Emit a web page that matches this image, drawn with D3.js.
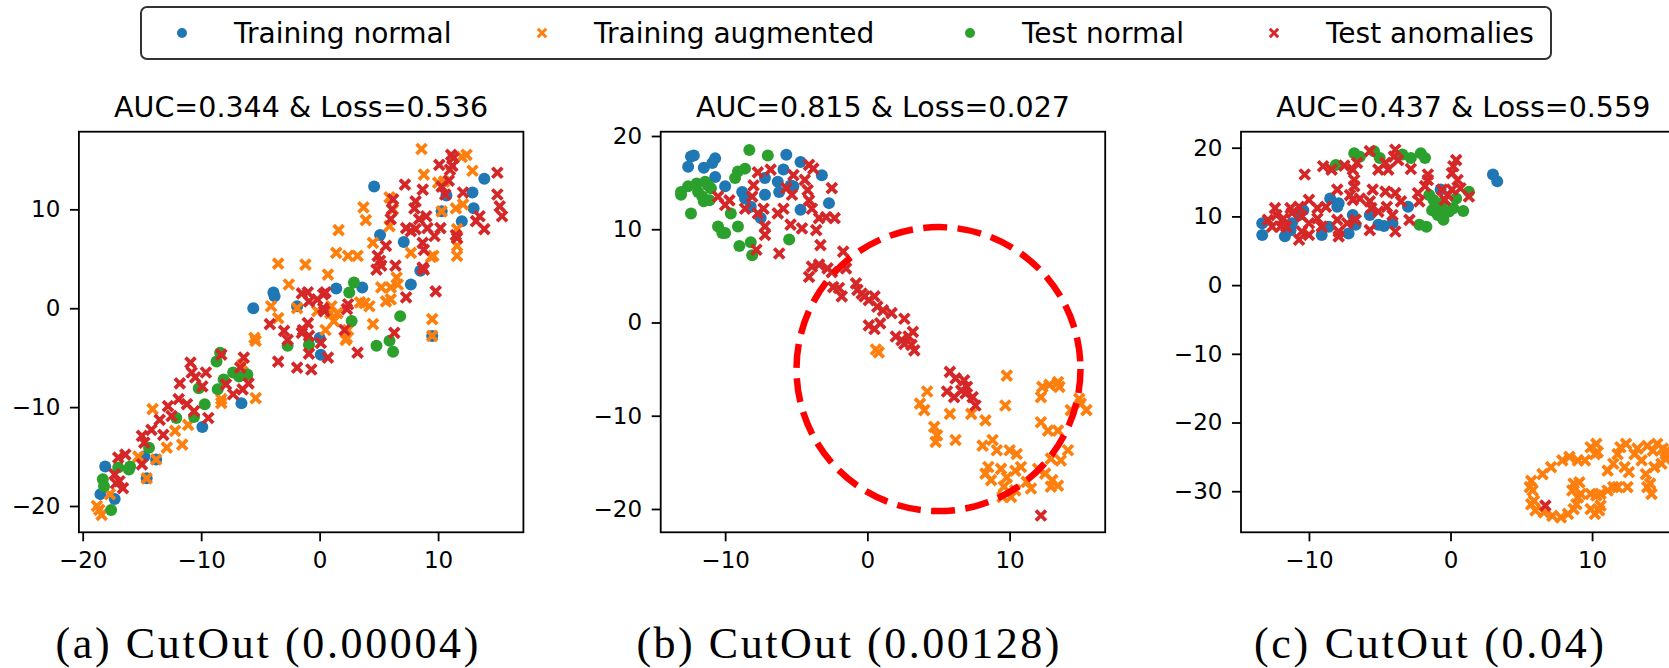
<!DOCTYPE html>
<html>
<head>
<meta charset="utf-8">
<script src="https://cdn.jsdelivr.net/npm/d3@7"></script>
<style>
  body { margin: 0; background: #fff; }
  svg { display: block; }
  .tick text { font-family: "DejaVu Sans", sans-serif; font-size: 23px; fill: #000; }
</style>
</head>
<body>
<svg id="chart"></svg>
<script>
(function () {
var width = 1669, height = 668

// series
var seriesNames = ['Training normal', 'Training augmented', 'Test normal', 'Test anomalies']
var seriesColors = ['#1f77b4', '#ff7f0e', '#2ca02c', '#d62728']
var seriesShapes = ['dot', 'x', 'dot', 'x']

var titles = ['AUC=0.344 & Loss=0.536', 'AUC=0.815 & Loss=0.027', 'AUC=0.437 & Loss=0.559']
var captions = ['(a) CutOut (0.00004)', '(b) CutOut (0.00128)', '(c) CutOut (0.04)']

var xTicks = [[-20, -10, 0, 10], [-10, 0, 10], [-10, 0, 10]]
var yTicks = [[-20, -10, 0, 10], [-20, -10, 0, 10, 20], [-30, -20, -10, 0, 10, 20]]
var xLimits = [[-20.32, 17.2], [-14.53, 16.72], [-14.8, 16.6]]
var yLimits = [[-22.66, 17.85], [-22.5, 20.46], [-35.98, 22.33]]

// panel (a)
var aTrainNormal = [[4.6,12.3],[13.9,13.1],[12.9,11.7],[10.7,11.4],[13.0,10.1],[12.0,8.8],[10.3,9.8],[5.1,7.4],[7.1,6.7],[8.5,3.8],[7.7,2.4],[1.4,2.0],[-3.9,1.6],[-3.8,1.2],[3.6,2.1],[-1.9,0.2],[0.0,-3.0],[0.1,-4.7],[9.5,-2.8],[-5.6,0.0],[-6.6,-9.6],[-9.9,-12.0],[-14.8,-15.0],[-13.8,-15.3],[-18.1,-16.0],[-14.6,-17.2],[-18.5,-18.8],[-17.3,-19.3]]
var aTrainAug = [[8.6,16.1],[12.4,15.5],[12.0,15.3],[8.8,13.5],[12.9,13.9],[10.0,12.7],[10.5,12.8],[5.9,11.2],[6.2,10.0],[3.7,10.2],[3.9,8.9],[1.6,7.9],[10.3,9.8],[11.5,10.1],[12.1,10.5],[1.4,5.6],[2.4,5.3],[3.2,5.3],[4.5,6.6],[-3.5,4.5],[-1.2,4.4],[0.7,3.4],[-2.6,2.4],[6.6,2.4],[6.0,2.1],[5.6,0.7],[9.4,5.2],[11.6,5.3],[11.6,6.3],[11.6,8.0],[9.6,5.3],[7.7,5.6],[5.9,8.3],[6.5,3.1],[5.2,2.1],[6.0,0.9],[3.8,0.5],[4.2,0.2],[9.5,-1.1],[4.5,-1.6],[2.4,-2.2],[3.4,0.6],[-4.1,0.2],[-1.9,0.0],[-3.5,-1.0],[-0.2,-0.3],[1.0,0.2],[1.5,-0.5],[0.9,-0.5],[1.2,-1.3],[2.2,-3.2],[2.3,-3.0],[0.5,-2.2],[9.5,-2.8],[-5.4,-3.3],[-5.5,-3.0],[-6.5,-5.7],[-8.3,-9.2],[-8.3,-9.6],[-5.4,-9.1],[-14.1,-10.2],[-11.1,-11.8],[-12.2,-12.4],[-11.6,-13.8],[-12.9,-14.1],[-13.8,-15.3],[-15.3,-15.0],[-14.6,-17.2],[-17.7,-18.8],[-18.6,-20.4],[-18.4,-20.9],[-18.8,-20.0]]
var aTestNormal = [[2.9,2.6],[2.5,1.6],[2.7,-1.3],[6.8,-0.8],[4.8,-3.8],[5.9,-3.3],[6.2,-4.4],[-2.7,-3.8],[-0.9,-3.7],[-8.7,-5.4],[-8.4,-4.5],[-8.1,-7.2],[-8.6,-8.2],[-7.3,-6.5],[-6.8,-6.9],[-6.1,-6.7],[-10.2,-8.1],[-9.7,-9.7],[-10.6,-11.0],[-12.1,-11.1],[-14.4,-14.1],[-17.0,-16.1],[-16.1,-16.3],[-16.0,-16.0],[-18.3,-17.3],[-18.2,-18.0],[-17.6,-20.4]]
var aTestAnom = [[11.1,15.5],[10.1,14.5],[11.2,14.4],[11.0,14.0],[11.3,15.2],[15.0,13.7],[7.2,12.5],[10.9,12.9],[10.3,12.3],[10.6,11.5],[8.7,12.0],[6.2,11.0],[6.1,10.0],[8.1,10.8],[8.0,10.1],[9.0,9.3],[15.0,11.5],[15.2,10.3],[15.4,9.3],[12.1,11.7],[13.5,9.3],[13.2,8.8],[13.9,8.0],[11.5,7.4],[11.6,7.1],[6.0,9.0],[7.3,8.1],[8.1,8.0],[9.1,8.1],[9.7,7.3],[10.2,8.1],[8.4,9.0],[7.7,7.8],[8.7,6.6],[8.8,5.9],[5.6,6.3],[4.9,5.3],[5.1,4.8],[4.8,3.9],[5.2,4.3],[6.4,4.3],[8.7,4.1],[7.3,1.1],[9.8,1.7],[8.8,3.9],[-1.0,1.6],[-1.5,1.5],[-0.2,0.9],[-0.9,0.7],[0.5,1.6],[0.3,1.4],[0.3,0.0],[0.4,-0.3],[2.4,0.4],[2.3,-0.1],[-4.2,-1.6],[-3.0,-2.3],[-2.7,-3.2],[-1.4,-2.2],[-1.0,-1.5],[-1.5,-2.5],[-0.9,-2.8],[0.1,-3.5],[2.1,-2.2],[3.2,-4.5],[6.3,-2.5],[-0.9,-4.6],[-3.5,-5.4],[-1.9,-6.0],[-0.7,-6.2],[0.7,-5.0],[-10.9,-5.5],[-10.8,-6.5],[-9.6,-6.5],[-11.8,-7.6],[-10.5,-7.0],[-9.9,-7.9],[-8.3,-4.7],[-6.4,-5.0],[-7.9,-7.7],[-6.7,-6.0],[-6.0,-7.6],[-6.5,-8.2],[-7.3,-8.7],[-11.2,-9.7],[-10.6,-10.4],[-12.8,-9.9],[-12.5,-10.9],[-11.9,-9.2],[-9.4,-11.1],[-13.5,-11.3],[-14.2,-12.3],[-15.0,-12.9],[-14.8,-13.6],[-13.2,-12.8],[-15.0,-15.8],[-17.0,-15.1],[-16.4,-14.8],[-17.3,-16.8],[-16.9,-17.5],[-16.6,-18.2],[-17.2,-17.7]]

// panel (b)
var bTrainNormal = [[-12.4,17.8],[-12.2,17.9],[-12.6,16.7],[-11.5,16.6],[-10.7,17.6],[-10.9,17.1],[-10.7,15.6],[-10.0,14.6],[-8.8,14.0],[-8.6,13.3],[-8.2,12.4],[-7.5,11.2],[-7.2,13.7],[-7.2,15.5],[-6.3,15.1],[-6.2,14.0],[-5.9,16.4],[-5.7,18.0],[-5.4,14.7],[-5.2,14.6],[-4.7,17.2],[-4.7,12.1],[-3.2,15.8],[-2.7,12.8]]
var bTrainAug = [[0.6,-2.9],[0.8,-3.2],[9.8,-5.7],[9.7,-8.9],[4.2,-7.4],[3.7,-8.7],[4.0,-9.4],[5.8,-9.8],[7.3,-9.8],[4.7,-11.2],[4.9,-12.1],[4.8,-12.8],[6.2,-12.6],[8.3,-10.5],[8.1,-13.2],[8.8,-12.6],[9.1,-13.7],[8.5,-15.5],[8.3,-16.2],[8.7,-16.9],[9.4,-15.7],[9.6,-17.6],[10.1,-18.7],[10.4,-18.0],[9.8,-16.6],[10.0,-13.7],[10.5,-14.1],[10.8,-15.5],[10.4,-15.9],[11.2,-17.1],[11.5,-17.8],[12.0,-15.7],[12.3,-6.9],[12.2,-8.0],[12.8,-6.7],[13.5,-6.9],[13.4,-6.4],[12.2,-10.7],[12.7,-11.6],[13.4,-11.6],[12.9,-14.6],[13.6,-14.8],[14.1,-13.7],[12.5,-16.2],[13.0,-16.9],[12.9,-17.6],[13.4,-17.5],[14.3,-9.4],[15.0,-8.7],[15.4,-9.4],[14.9,-8.2],[9.5,-18.7]]
var bTestNormal = [[-8.3,18.5],[-7.0,17.9],[-9.3,15.5],[-9.1,16.2],[-8.6,16.5],[-13.1,14.0],[-13.1,13.7],[-12.6,14.6],[-12.0,14.9],[-11.4,15.1],[-11.2,14.7],[-11.9,14.0],[-11.6,13.5],[-11.0,14.4],[-11.5,13.0],[-11.1,13.1],[-12.4,11.7],[-9.6,11.7],[-10.5,10.3],[-10.2,9.6],[-10.0,9.6],[-9.1,10.3],[-9.0,8.2],[-8.2,8.6],[-8.1,7.2],[-5.5,8.9]]
var bTestAnom = [[-10.5,13.5],[-9.7,13.1],[-10.0,12.6],[-8.6,12.2],[-8.0,14.7],[-8.1,13.5],[-7.7,16.1],[-6.8,16.4],[-7.7,11.7],[-7.3,12.2],[-7.2,10.3],[-7.2,9.4],[-7.8,7.8],[-6.2,7.4],[-6.3,11.7],[-5.9,12.2],[-5.4,10.5],[-5.7,14.4],[-5.3,13.7],[-5.2,15.8],[-4.6,10.1],[-4.4,15.3],[-4.2,14.2],[-4.1,13.1],[-3.9,12.2],[-4.1,16.9],[-3.8,16.5],[-3.4,11.2],[-3.6,9.9],[-2.5,14.4],[-2.9,11.3],[-2.3,11.2],[-3.3,8.3],[-1.7,7.6],[-3.9,6.0],[-3.4,6.2],[-4.1,4.9],[-2.8,5.8],[-2.5,5.4],[-1.5,5.8],[-2.4,3.8],[-2.0,3.7],[-1.8,2.8],[-0.8,4.2],[-0.7,3.5],[-0.4,3.1],[-0.2,2.8],[0.1,2.4],[0.5,2.8],[0.7,1.7],[1.1,1.3],[1.7,1.0],[0.1,-0.3],[0.5,-0.7],[0.9,-0.1],[2.6,0.4],[2.0,-1.5],[2.4,-1.9],[2.9,-1.5],[3.2,-1.0],[3.1,-2.4],[2.6,-2.3],[3.3,-3.0],[5.8,-5.3],[6.2,-6.0],[6.8,-6.2],[7.0,-6.9],[6.6,-7.3],[5.6,-7.4],[7.4,-8.0],[7.6,-8.9],[6.1,-8.0],[6.9,-7.6],[12.2,-20.7]]

// panel (c)
var cTrainNormal = [[-13.3,7.3],[-13.3,9.0],[-11.7,7.1],[-11.3,8.0],[-11.2,9.0],[-9.1,7.3],[-8.5,12.6],[-8.6,8.5],[-8.0,11.4],[-7.9,11.9],[-7.2,7.5],[-6.7,8.8],[-6.9,10.2],[-5.7,10.2],[-5.1,8.8],[-4.7,8.6],[-4.1,9.0],[-3.0,11.4],[-0.7,13.9],[3.0,16.1],[3.3,15.1],[-10.7,10.2],[-10.4,10.9]]
var cTrainAug = [[5.7,-28.5],[5.8,-29.9],[5.9,-31.4],[6.0,-32.8],[5.6,-29.4],[5.7,-31.9],[6.5,-27.5],[7.1,-26.5],[6.6,-33.1],[7.2,-33.6],[7.8,-33.8],[8.3,-33.3],[8.7,-32.6],[8.9,-31.9],[7.9,-25.5],[8.4,-25.0],[9.0,-25.5],[8.7,-28.9],[9.1,-28.7],[8.6,-29.9],[9.0,-30.9],[9.2,-30.4],[9.5,-25.5],[9.9,-23.6],[10.2,-24.6],[10.3,-23.1],[10.4,-24.3],[9.9,-30.4],[10.3,-30.6],[10.6,-30.4],[11.1,-29.9],[11.5,-29.4],[11.8,-29.4],[9.9,-32.6],[10.5,-32.8],[10.2,-33.3],[10.6,-32.1],[11.1,-27.0],[11.5,-26.0],[11.8,-24.6],[12.0,-23.6],[12.4,-23.1],[12.3,-26.5],[12.6,-27.2],[12.5,-29.4],[13.0,-24.6],[13.2,-23.8],[13.5,-25.5],[13.9,-23.4],[14.3,-24.1],[14.6,-23.1],[15.0,-23.8],[15.2,-24.6],[13.8,-27.5],[14.1,-28.9],[14.2,-30.4],[13.9,-29.4],[14.4,-26.5],[14.9,-26.0],[15.2,-25.3],[15.3,-24.1],[15.8,-25.0],[16.2,-24.0]]
var cTestNormal = [[-8.1,17.5],[-6.8,19.2],[-6.4,18.7],[-5.4,19.5],[-5.0,18.5],[-3.4,19.0],[-2.8,18.5],[-2.1,19.2],[-1.8,18.5],[-1.5,13.1],[-1.2,12.4],[-1.0,11.4],[-0.7,10.7],[-0.5,9.5],[-1.3,10.9],[-0.6,11.9],[-0.1,10.7],[0.2,11.2],[0.4,12.6],[1.3,13.6],[0.9,10.8],[-2.2,8.8],[-1.7,8.5],[-0.9,10.2]]
var cTestAnom = [[-10.3,16.1],[-9.0,17.3],[-8.4,16.8],[-7.5,17.4],[-6.9,16.8],[-6.6,17.8],[-5.7,19.5],[-5.1,16.8],[-4.4,16.8],[-4.6,17.8],[-3.9,19.7],[-4.0,18.7],[-3.7,18.2],[-2.8,16.9],[-6.8,15.3],[-6.8,14.4],[-8.0,13.9],[-7.1,13.1],[-6.9,12.4],[-6.4,12.6],[-5.7,12.2],[-5.5,13.9],[-4.6,13.6],[-3.9,13.4],[-3.5,12.2],[-5.6,11.2],[-5.1,10.7],[-4.5,11.4],[-4.1,10.2],[-3.9,7.8],[-5.7,8.0],[-7.9,7.1],[-7.9,7.8],[-8.0,9.5],[-7.3,9.0],[-6.7,9.5],[-9.4,11.2],[-8.8,11.4],[-10.0,12.4],[-10.7,11.4],[-10.5,10.0],[-10.0,9.0],[-9.4,9.7],[-9.1,8.5],[-10.7,6.6],[-10.5,7.8],[-11.3,11.2],[-11.2,10.5],[-11.8,9.7],[-11.6,8.5],[-12.4,11.2],[-12.3,10.2],[-12.9,9.5],[-12.6,8.5],[-12.0,8.5],[-10.0,7.3],[-2.9,9.5],[-2.3,13.4],[-2.2,12.2],[-1.8,14.4],[-1.6,15.3],[-1.6,16.1],[-0.6,13.9],[-0.2,13.1],[-0.4,12.4],[0.1,13.9],[0.1,16.3],[0.4,18.2],[0.2,17.3],[0.5,15.3],[1.3,12.9],[0.7,14.1],[6.7,-32.1]]

var panelSeries = [
    [aTrainNormal, aTrainAug, aTestNormal, aTestAnom],
    [bTrainNormal, bTrainAug, bTestNormal, bTestAnom],
    [cTrainNormal, cTrainAug, cTestNormal, cTestAnom],
]

// highlighted region in panel (b): centre in data units
var ringCentre = [5, -5]

// layout
var panelLeft = [78.9, 660.7, 1241]
var panelW = 444.5
var top = 131.7, bottom = 532.3
var captionX = [266.9, 847.9, 1429]

var svg = d3.select('#chart')
            .attr('width', width)
            .attr('height', height)

svg.append('rect').attr('width', width).attr('height', height).attr('fill', '#fff')

function xMark(r) {
    return 'M' + (-r) + ',' + (-r) + 'L' + r + ',' + r + 'M' + (-r) + ',' + r + 'L' + r + ',' + (-r)
}

function drawMarks(g, pts, i, x, y) {
    var color = seriesColors[i]
    if (seriesShapes[i] === 'dot') {
        g.selectAll('circle.s' + i)
            .data(pts)
            .enter().append('circle')
            .attr('class', 's' + i)
            .attr('cx', (d) => x(d[0]))
            .attr('cy', (d) => y(d[1]))
            .attr('r', 6)
            .attr('fill', color)
    } else {
        g.selectAll('path.s' + i)
            .data(pts)
            .enter().append('path')
            .attr('class', 's' + i)
            .attr('transform', (d) => 'translate(' + x(d[0]) + ',' + y(d[1]) + ')')
            .attr('d', xMark(5))
            .attr('stroke', color)
            .attr('stroke-width', 3.8)
            .attr('fill', 'none')
    }
}

panelSeries.forEach(function (series, p) {
    var left = panelLeft[p], right = left + panelW
    var x = d3.scaleLinear().domain(xLimits[p]).range([left, right])
    var y = d3.scaleLinear().domain(yLimits[p]).range([bottom, top])

    var g = svg.append('g')

    svg.append('clipPath').attr('id', 'clip' + p)
        .append('rect').attr('x', left).attr('y', top)
        .attr('width', panelW).attr('height', bottom - top)

    var marks = g.append('g').attr('clip-path', 'url(#clip' + p + ')')
    series.forEach(function (pts, i) { drawMarks(marks, pts, i, x, y) })

    if (p === 1) {
        marks.append('circle')
            .attr('cx', x(ringCentre[0]))
            .attr('cy', y(ringCentre[1]))
            .attr('r', 142)
            .attr('fill', 'none')
            .attr('stroke', '#ff0000')
            .attr('stroke-width', 6.5)
            .attr('stroke-dasharray', '24 10.4')
    }

    // axes
    var ax = g.append('g').attr('transform', 'translate(0,' + bottom + ')')
        .call(d3.axisBottom(x).tickValues(xTicks[p]).tickSize(9).tickPadding(10.5).tickSizeOuter(0))
    var ay = g.append('g').attr('transform', 'translate(' + left + ',0)')
        .call(d3.axisLeft(y).tickValues(yTicks[p]).tickSize(9).tickPadding(9.6).tickSizeOuter(0))
    ;[ax, ay].forEach(function (a) {
        a.select('.domain').remove()
        a.selectAll('.tick line').attr('stroke', '#000').attr('stroke-width', 1.8)
    })

    g.append('rect')
        .attr('x', left).attr('y', top)
        .attr('width', panelW).attr('height', bottom - top)
        .attr('fill', 'none').attr('stroke', '#000').attr('stroke-width', 1.8)

    g.append('text')
        .attr('x', (left + right) / 2).attr('y', 116.5)
        .attr('text-anchor', 'middle')
        .style('font', '28.5px "DejaVu Sans", sans-serif')
        .text(titles[p])

    g.append('text')
        .attr('x', captionX[p]).attr('y', 658)
        .attr('text-anchor', 'middle')
        .attr('textLength', p === 2 ? 350 : 423)
        .attr('lengthAdjust', 'spacing')
        .style('font', '44px "Liberation Serif", serif')
        .text(captions[p])
})

// legend
var legendTextX = [234, 594, 1022, 1326]
var lg = svg.append('g')
lg.append('rect')
    .attr('x', 141).attr('y', 7).attr('width', 1410).attr('height', 52).attr('rx', 6)
    .attr('fill', '#fff').attr('stroke', '#333').attr('stroke-width', 2)
seriesNames.forEach(function (name, i) {
    var mx = legendTextX[i] - 52, my = 33
    if (seriesShapes[i] === 'dot') {
        lg.append('circle').attr('cx', mx).attr('cy', my).attr('r', 5).attr('fill', seriesColors[i])
    } else {
        lg.append('path').attr('transform', 'translate(' + mx + ',' + my + ')')
            .attr('d', xMark(4.2)).attr('stroke', seriesColors[i]).attr('stroke-width', 3).attr('fill', 'none')
    }
    lg.append('text')
        .attr('x', legendTextX[i]).attr('y', 42.5)
        .style('font', '28px "DejaVu Sans", sans-serif')
        .text(name)
})
})();
</script>
</body>
</html>
